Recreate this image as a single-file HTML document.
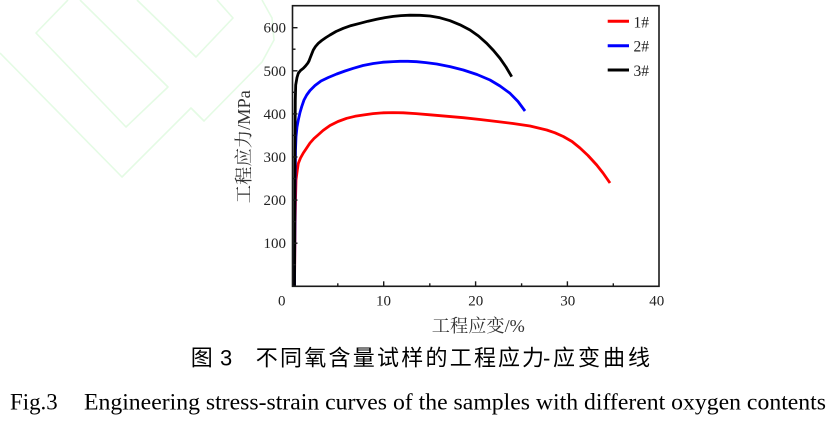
<!DOCTYPE html>
<html>
<head>
<meta charset="utf-8">
<style>
  html, body { margin: 0; padding: 0; background: #fff; }
  body { width: 838px; height: 421px; overflow: hidden; }
  svg { display: block; }
</style>
</head>
<body>
<svg width="838" height="421" viewBox="0 0 838 421" xmlns="http://www.w3.org/2000/svg">
  <rect x="0" y="0" width="838" height="421" fill="#fff"/>

  <!-- faint watermark -->
  <g fill="none" stroke="#e4fbe4" stroke-width="1.6" stroke-linejoin="round">
    <polyline points="80,0 168,87 126,127 36,33 68,0"/>
    <polyline points="137,0 196,57 233,18 217,0"/>
    <polyline points="0,53 122,177 191,108 204,121 262,62 274,40 272,18 262,0"/>
  </g>

  <!-- curves -->
  <g fill="none" stroke-width="2.8" stroke-linejoin="round" stroke-linecap="butt">
    <polyline stroke="#ff0000" points="294.5,286 295,230 295.5,200 296,180 297.3,170 298.3,163.5 300.5,158 303.3,153 306,149 310,143 314,138.5 318,135 323,130.5 330,125.5 338,121.5 346.7,118.3 355,116.3 363.3,115 373,113.6 383.3,112.8 393,112.6 403.3,112.8 416,113.6 430,114.8 446,116.2 463.3,117.7 480,119.5 496.7,121.5 513,123.5 530,126 546.7,130 555,132.8 563.3,136.5 572,141.5 580,148 588,155.5 596.7,165 603,173 610,183"/>
    <polyline stroke="#0000ff" points="294.5,286 295,200 295.5,150 296,136.7 297,127 298.3,120 300,112.5 301.7,106.7 304,100 306.7,95 310,90.5 315,85.5 321,81 328.3,77.5 336.7,74 345,71 353.3,68.3 363,65.5 373.3,63.5 383.3,62.2 393.3,61.6 400,61.3 408,61.3 416.7,61.7 426,62.6 436.7,64 450,66.6 463.3,70 477,74.5 490,80 500,86 510,93.3 518,101.5 525,111"/>
    <polyline stroke="#000000" points="294.5,286 295,150 295.3,100 295.7,85 297,77.5 298.3,73.3 300.5,70.5 303.3,68.3 305.5,66 307.7,63.3 309,61 310,58.3 311.7,54 313.3,50 315.5,46.5 318.3,43.3 321.7,40.5 326,37.5 330,35 336,31.5 343.3,28.3 351,25.6 360,23.3 368,21.2 376.7,19.3 385,17.6 393.3,16.4 401,15.6 410,15.2 420,15.3 430,16 440,17.8 450,20.7 460,24.8 470,30 478.5,36 486.7,43.3 493.5,50.5 500,58.3 506,67 511.7,76.7"/>
  </g>

  <!-- frame -->
  <rect x="292.5" y="5.7" width="366.5" height="280.6" fill="none" stroke="#1a1a1a" stroke-width="1.6"/>

  <!-- y ticks -->
  <g stroke="#1a1a1a" stroke-width="1.4">
    <line x1="292.5" y1="243.2" x2="297.5" y2="243.2"/>
    <line x1="292.5" y1="200.1" x2="297.5" y2="200.1"/>
    <line x1="292.5" y1="157" x2="297.5" y2="157"/>
    <line x1="292.5" y1="113.9" x2="297.5" y2="113.9"/>
    <line x1="292.5" y1="70.8" x2="297.5" y2="70.8"/>
    <line x1="292.5" y1="27.7" x2="297.5" y2="27.7"/>
    <line x1="292.5" y1="264.7" x2="295.5" y2="264.7"/>
    <line x1="292.5" y1="221.6" x2="295.5" y2="221.6"/>
    <line x1="292.5" y1="178.5" x2="295.5" y2="178.5"/>
    <line x1="292.5" y1="135.4" x2="295.5" y2="135.4"/>
    <line x1="292.5" y1="92.3" x2="295.5" y2="92.3"/>
    <line x1="292.5" y1="49.2" x2="295.5" y2="49.2"/>
  </g>
  <!-- x ticks -->
  <g stroke="#1a1a1a" stroke-width="1.4">
    <line x1="383.7" y1="286.3" x2="383.7" y2="281.3"/>
    <line x1="475.6" y1="286.3" x2="475.6" y2="281.3"/>
    <line x1="567.4" y1="286.3" x2="567.4" y2="281.3"/>
    <line x1="337.8" y1="286.3" x2="337.8" y2="283.3"/>
    <line x1="429.8" y1="286.3" x2="429.8" y2="283.3"/>
    <line x1="521.6" y1="286.3" x2="521.6" y2="283.3"/>
    <line x1="613.3" y1="286.3" x2="613.3" y2="283.3"/>
  </g>

  <!-- tick labels -->
  <g font-family="'Liberation Serif', serif" font-size="15" fill="#222">
    <g text-anchor="end">
      <text x="286" y="248.2">100</text>
      <text x="286" y="205.1">200</text>
      <text x="286" y="162">300</text>
      <text x="286" y="118.9">400</text>
      <text x="286" y="75.8">500</text>
      <text x="286" y="32.7">600</text>
    </g>
    <g text-anchor="middle">
      <text x="281.7" y="305.3">0</text>
      <text x="383.5" y="305.3">10</text>
      <text x="475.7" y="305.3">20</text>
      <text x="567.7" y="305.3">30</text>
      <text x="656.7" y="305.3">40</text>
    </g>
  </g>

  <!-- axis titles -->
  <text x="478.3" y="332" text-anchor="middle" font-family="'Liberation Serif', 'Noto Serif CJK SC', 'Noto Sans CJK SC', serif" font-size="18" fill="#333" textLength="93" lengthAdjust="spacingAndGlyphs">工程应变/%</text>
  <text transform="translate(250,146.7) rotate(-90)" text-anchor="middle" font-family="'Liberation Serif', 'Noto Serif CJK SC', 'Noto Sans CJK SC', serif" font-size="18" fill="#333" textLength="113" lengthAdjust="spacingAndGlyphs">工程应力/MPa</text>

  <!-- legend -->
  <g stroke-width="3">
    <line x1="607.7" y1="21.3" x2="629" y2="21.3" stroke="#ff0000"/>
    <line x1="607.7" y1="45.7" x2="629" y2="45.7" stroke="#0000ff"/>
    <line x1="607.7" y1="70" x2="629" y2="70" stroke="#000"/>
  </g>
  <g font-family="'Liberation Serif', serif" font-size="15.5" fill="#222">
    <text x="633.5" y="27.3">1#</text>
    <text x="633.5" y="51.7">2#</text>
    <text x="633.5" y="76">3#</text>
  </g>

  <!-- Chinese caption -->
  <g font-family="'Liberation Sans', 'Noto Sans CJK SC', sans-serif" font-size="22" fill="#000">
    <text x="190.7" y="365.5">图</text>
    <text x="220" y="365.5">3</text>
    <text y="365.5" x="255.7 280 304.3 328.5 352.8 377 401.2 425.5 449.7 474 498 522">不同氧含量试样的工程应力</text>
    <text x="543" y="365.5">-</text>
    <text y="365.5" x="553 578 603 628">应变曲线</text>
  </g>

  <!-- English caption -->
  <g font-family="'Liberation Serif', serif" font-size="23" fill="#000">
    <text x="10" y="409.3" textLength="47.7" lengthAdjust="spacingAndGlyphs">Fig.3</text>
    <text x="84" y="409.3" textLength="742" lengthAdjust="spacingAndGlyphs">Engineering stress-strain curves of the samples with different oxygen contents</text>
  </g>
</svg>
</body>
</html>
